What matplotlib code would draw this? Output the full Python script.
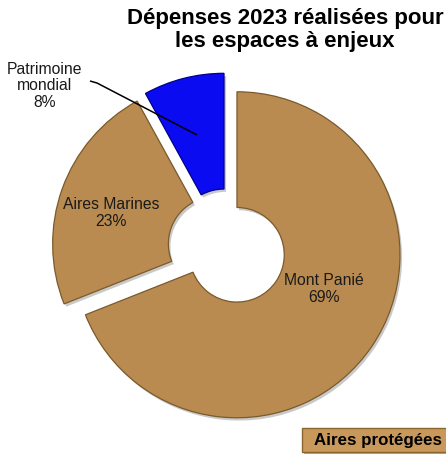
import matplotlib
matplotlib.use("Agg")
import matplotlib.pyplot as plt
import matplotlib.patheffects as pe
from matplotlib.patches import FancyBboxPatch

# Spending shares (%) for the priority areas
categories = ["Mont Panié", "Aires Marines", "Patrimoine mondial"]
shares = [69, 23, 8]
label_texts = ["Mont Panié\n69%", "Aires Marines\n23%", "Patrimoine\nmondial\n8%"]
legend_label = "Aires protégées"
title = "Dépenses 2023 réalisées pour\nles espaces à enjeux"

TAN = "#B98B50"
BLUE = "#0B0BF2"
colors = [TAN, TAN, BLUE]

W, H = 446, 459
fig = plt.figure(figsize=(W / 100, H / 100), dpi=100)
fig.patch.set_facecolor("white")

# Axes spanning the whole figure; one data unit = pie radius (163 px)
R = 163.0
CX, CY = 227.0, 248.0
ax = fig.add_axes([0, 0, 1, 1])

wedges, _ = ax.pie(
    shares,
    colors=colors,
    startangle=90,
    counterclock=False,
    radius=1.0,
    explode=[0.074] * len(shares),
    wedgeprops=dict(width=0.71, linewidth=0.9),
)
ax.set_xlim(-CX / R, (W - CX) / R)
ax.set_ylim(-(H - CY) / R, CY / R)
ax.set_aspect("equal")
ax.axis("off")

for w, c in zip(wedges, colors):
    ec = "#00008a" if c == BLUE else "#7a5a2c"
    w.set_edgecolor(ec)
    w.set_path_effects([
        pe.SimplePatchShadow(offset=(1.5, -2), shadow_rgbFace="#888888", alpha=0.45),
        pe.Normal(),
    ])

def px(x, y):
    return (x / W, 1 - y / H)

def dat(x, y):
    return ((x - CX) / R, (CY - y) / R)

lab_font = dict(family="Liberation Sans", fontsize=11.3, color="#1a1a1a",
                ha="center", va="center", linespacing=1.15)
fig.text(*px(324, 289), label_texts[0], **lab_font)
fig.text(*px(111, 213), label_texts[1], **lab_font)
fig.text(*px(45, 86), label_texts[2], **lab_font)

# Leader line for the small slice
ax.plot(*zip(dat(90, 81), dat(97, 83), dat(197, 135)), color="black", lw=1.1,
        solid_capstyle="butt")

fig.text(*px(285, 8), title, family="Liberation Sans", fontweight="bold",
         fontsize=16, ha="center", va="top", linespacing=1.1, color="black")

# Legend box at the bottom right
box = FancyBboxPatch(px(302, 452), 0.5, 24 / H, boxstyle="square,pad=0",
                     transform=fig.transFigure, facecolor="#C9995C",
                     edgecolor="#8a6530", linewidth=1.0, clip_on=False)
box.set_path_effects([pe.SimplePatchShadow(offset=(1.5, -1.5), alpha=0.4), pe.Normal()])
fig.patches.append(box)
fig.text(*px(314, 441), legend_label, family="Liberation Sans", fontweight="bold",
         fontsize=12.2, ha="left", va="center", color="black")

fig.savefig("out.png", dpi=100, facecolor="white")
